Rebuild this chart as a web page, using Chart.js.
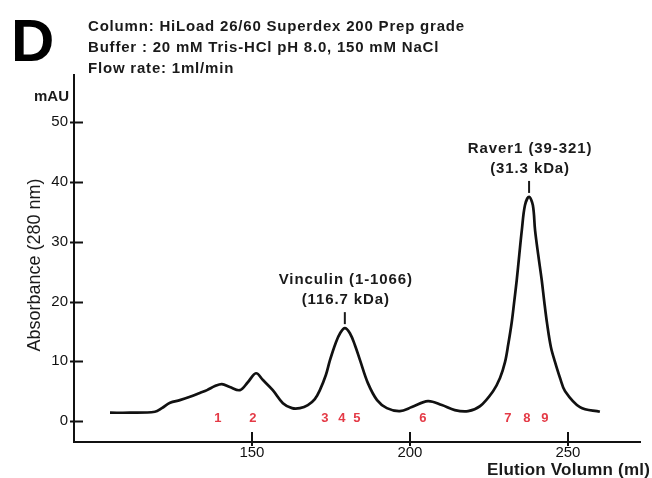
<!DOCTYPE html>
<html>
<head>
<meta charset="utf-8">
<script src="https://cdn.jsdelivr.net/npm/chart.js@4.4.1/dist/chart.umd.min.js"></script>
<style>
  html, body { margin: 0; padding: 0; background: #ffffff; }
  #wrap { width: 652px; height: 478px; }
</style>
</head>
<body>
<div id="wrap"><canvas id="c" width="652" height="478"></canvas></div>
<script>
// ---- data ----
const elutionVolume = [105.1, 111.4, 119.3, 121.5, 124.1, 127.2, 130.4, 133.5, 135.8, 138.3, 140.5, 143.0, 146.2, 148.7, 151.3, 153.5, 156.6, 159.8, 162.7, 165.2, 167.7, 169.9, 171.5, 173.4, 174.7, 176.6, 177.9, 179.4, 181.0, 182.6, 184.2, 186.7, 189.6, 192.7, 196.8, 200.6, 205.7, 210.1, 214.2, 218.4, 222.2, 226.3, 228.5, 230.1, 231.1, 232.2, 233.0, 233.8, 234.6, 235.4, 236.4, 237.7, 238.9, 239.6, 240.6, 241.7, 242.5, 243.4, 244.6, 245.9, 247.5, 249.1, 253.8, 260.1];
const absorbance    = [1.4, 1.4, 1.56, 2.17, 3.06, 3.5, 4.06, 4.7, 5.18, 5.85, 6.19, 5.7, 5.18, 6.5, 8.0, 6.86, 5.18, 3.0, 2.17, 2.17, 2.68, 3.68, 5.18, 7.7, 10.2, 13.2, 14.7, 15.55, 14.7, 12.7, 10.2, 6.35, 3.51, 2.17, 1.67, 2.34, 3.34, 2.68, 1.84, 1.67, 2.5, 5.0, 7.2, 9.9, 12.8, 16.5, 20.0, 23.6, 27.8, 31.9, 36.1, 37.5, 36.1, 31.9, 27.8, 23.6, 20.0, 16.3, 12.4, 9.9, 7.2, 5.0, 2.34, 1.56];

const xTickValues = [150, 200, 250];
const yTickValues = [0, 10, 20, 30, 40, 50];

const fractionLabels = ['1', '2', '3', '4', '5', '6', '7', '8', '9'];
const fractionVolume = [139.2, 150.3, 173.1, 178.5, 183.2, 204.1, 231.0, 237.0, 242.7];
const fractionLevel = 0.5;

const peakNames  = ['Vinculin (1-1066)', 'Raver1 (39-321)'];
const peakMasses = ['(116.7 kDa)', '(31.3 kDa)'];
const peakVolume = [179.4, 237.7];
const peakAbs    = [15.55, 37.5];

const panelLetter = 'D';
const headerLines = [
  'Column: HiLoad 26/60 Superdex 200 Prep grade',
  'Buffer : 20 mM Tris-HCl pH 8.0, 150 mM NaCl',
  'Flow rate: 1ml/min'
];
const yUnit = 'mAU';
const yTitle = 'Absorbance (280 nm)';
const xTitle = 'Elution Volumn (ml)';

// ---- chart ----
const points = elutionVolume.map((v, i) => ({ x: v, y: absorbance[i] }));
const FONT = '"Liberation Sans", Arial, sans-serif';
const INK = '#1a1a1a';

const decor = {
  id: 'decor',
  afterDatasetsDraw(chart) {
    const ctx = chart.ctx;
    const xs = chart.scales.x, ys = chart.scales.y;
    const area = chart.chartArea;
    ctx.save();
    // inward tick marks
    ctx.strokeStyle = '#111';
    ctx.lineWidth = 2;
    yTickValues.forEach(v => {
      const py = Math.round(ys.getPixelForValue(v)) + 0.5;
      ctx.beginPath(); ctx.moveTo(area.left - 4, py); ctx.lineTo(area.left + 9, py); ctx.stroke();
    });
    xTickValues.forEach(v => {
      const px = Math.round(xs.getPixelForValue(v));
      ctx.beginPath(); ctx.moveTo(px, area.bottom - 10); ctx.lineTo(px, area.bottom + 4); ctx.stroke();
    });
    // fraction numbers
    ctx.fillStyle = '#e43a46';
    ctx.font = 'bold 13px ' + FONT;
    ctx.textAlign = 'center';
    ctx.textBaseline = 'middle';
    fractionLabels.forEach((t, i) => {
      ctx.fillText(t, xs.getPixelForValue(fractionVolume[i]), ys.getPixelForValue(fractionLevel));
    });
    // peak annotations
    ctx.fillStyle = INK;
    ctx.strokeStyle = INK;
    ctx.lineWidth = 2;
    peakNames.forEach((name, i) => {
      const px = xs.getPixelForValue(peakVolume[i]);
      const py = ys.getPixelForValue(peakAbs[i]);
      ctx.beginPath(); ctx.moveTo(px, py - 16); ctx.lineTo(px, py - 4); ctx.stroke();
      ctx.font = 'bold 15px ' + FONT;
      ctx.letterSpacing = '0.9px';
      ctx.fillText(name, px + 1, py - 48);
      ctx.fillText(peakMasses[i], px + 1, py - 28);
    });
    ctx.letterSpacing = '0px';
    // unit label
    ctx.font = 'bold 15px ' + FONT;
    ctx.textAlign = 'right';
    ctx.fillText(yUnit, area.left - 5, 97);
    // y title
    ctx.save();
    ctx.translate(35, 265);
    ctx.rotate(-Math.PI / 2);
    ctx.textAlign = 'center';
    ctx.font = '18px ' + FONT;
    ctx.fillText(yTitle, 0, 0);
    ctx.restore();
    // x title
    ctx.textAlign = 'right';
    ctx.font = 'bold 17px ' + FONT;
    ctx.letterSpacing = '0.2px';
    ctx.fillText(xTitle, 650, 470);
    // panel letter and header
    ctx.letterSpacing = '0px';
    ctx.textAlign = 'left';
    ctx.textBaseline = 'alphabetic';
    ctx.fillStyle = '#000';
    ctx.font = 'bold 60px ' + FONT;
    ctx.fillText(panelLetter, 11, 61);
    ctx.fillStyle = INK;
    ctx.font = 'bold 15px ' + FONT;
    ctx.letterSpacing = '0.8px';
    ctx.textBaseline = 'middle';
    headerLines.forEach((t, i) => ctx.fillText(t, 88, 27 + i * 21));
    ctx.restore();
  }
};

new Chart(document.getElementById('c'), {
  type: 'line',
  data: {
    datasets: [{
      data: points,
      borderColor: '#111',
      borderWidth: 2.7,
      pointRadius: 0,
      fill: false,
      tension: 0.35
    }]
  },
  options: {
    responsive: false,
    devicePixelRatio: 1,
    animation: false,
    layout: { padding: { left: 0, top: 75, right: 12, bottom: 0 } },
    plugins: { legend: { display: false }, tooltip: { enabled: false } },
    scales: {
      x: {
        type: 'linear',
        min: 93.7,
        max: 272.8,
        afterBuildTicks: s => { s.ticks = xTickValues.map(v => ({ value: v })); },
        afterFit: s => { s.height = 36; },
        grid: { display: false, drawTicks: false },
        border: { display: true, color: '#111', width: 2 },
        ticks: { color: '#111', font: { family: FONT, size: 15 }, padding: 2, maxRotation: 0, autoSkip: false }
      },
      y: {
        type: 'linear',
        min: -3.5,
        max: 57.9,
        afterBuildTicks: s => { s.ticks = yTickValues.map(v => ({ value: v })); },
        afterFit: s => { s.width = 74; },
        grid: { display: false, drawTicks: false },
        border: { display: true, color: '#111', width: 2 },
        ticks: { color: '#111', font: { family: FONT, size: 15 }, padding: 6, autoSkip: false }
      }
    }
  },
  plugins: [decor]
});
</script>
</body>
</html>
